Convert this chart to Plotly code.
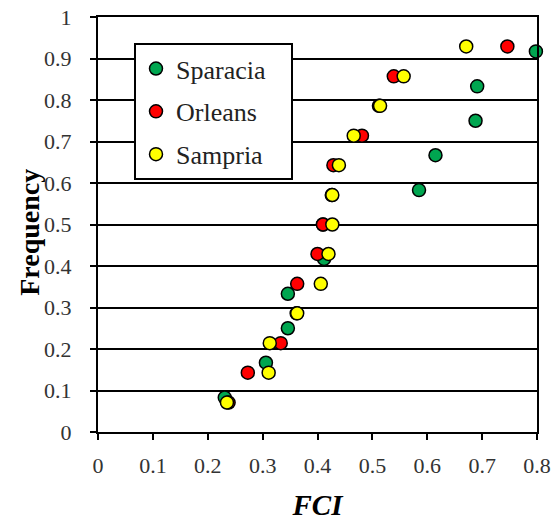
import plotly.graph_objects as go

# Data
sparacia_x = [0.231, 0.306, 0.346, 0.346, 0.412, 0.410, 0.585, 0.615, 0.688, 0.691, 0.798]
sparacia_y = [0.083, 0.167, 0.250, 0.333, 0.417, 0.500, 0.583, 0.667, 0.750, 0.833, 0.917]

orleans_x = [0.238, 0.273, 0.333, 0.362, 0.363, 0.400, 0.410, 0.426, 0.429, 0.481, 0.512, 0.539, 0.746]
orleans_y = [0.071, 0.143, 0.214, 0.286, 0.357, 0.429, 0.500, 0.571, 0.643, 0.714, 0.786, 0.857, 0.929]

sampria_x = [0.235, 0.311, 0.313, 0.363, 0.406, 0.420, 0.427, 0.427, 0.439, 0.466, 0.514, 0.557, 0.671]
sampria_y = [0.071, 0.143, 0.214, 0.286, 0.357, 0.429, 0.500, 0.571, 0.643, 0.714, 0.786, 0.857, 0.929]

x_ticks = [0, 0.1, 0.2, 0.3, 0.4, 0.5, 0.6, 0.7, 0.8]
y_ticks = [0, 0.1, 0.2, 0.3, 0.4, 0.5, 0.6, 0.7, 0.8, 0.9, 1]

FONT = "Liberation Serif"

series = [
    ("Sparacia", sparacia_x, sparacia_y, "#00A650"),
    ("Orleans", orleans_x, orleans_y, "#FF0000"),
    ("Sampria", sampria_x, sampria_y, "#FFFF00"),
]

fig = go.Figure()
for name, xs, ys, col in series:
    fig.add_trace(go.Scatter(
        x=xs, y=ys, mode="markers", name=name + "\u00a0\u00a0\u00a0", legendgroup=name,
        marker=dict(size=13, color=col, line=dict(color="black", width=1.5)),
        cliponaxis=False,
    ))

fig.update_layout(
    width=553, height=521,
    margin=dict(l=98, r=16, t=17, b=89),
    paper_bgcolor="white", plot_bgcolor="white",
    font=dict(family=FONT, color="#333333", size=22),
    showlegend=True,
    legend=dict(
        x=0.082, y=0.937, xanchor="left", yanchor="top",
        bgcolor="white", bordercolor="black", borderwidth=2,
        font=dict(family=FONT, size=26, color="#222222"),
        tracegroupgap=6,
        itemwidth=30,
    ),
    xaxis=dict(
        range=[0, 0.8], tickvals=x_ticks, ticktext=[str(v) for v in x_ticks],
        showgrid=False, zeroline=False, automargin=False,
        showline=True, linecolor="black", linewidth=2, mirror=True,
        ticks="outside", ticklen=6, tickwidth=2, tickcolor="black",
        tickfont=dict(size=22), ticklabelstandoff=7,
        title=dict(text="<b><i>FCI</i></b>", font=dict(size=29, color="black"), standoff=22),
    ),
    yaxis=dict(
        range=[0, 1], tickvals=y_ticks, ticktext=[str(v) for v in y_ticks],
        showgrid=True, gridcolor="black", gridwidth=2, zeroline=False, automargin=False,
        showline=True, linecolor="black", linewidth=2, mirror=True,
        ticks="outside", ticklen=6, tickwidth=2, tickcolor="black",
        tickfont=dict(size=22), ticklabelstandoff=14,
    ),
    annotations=[dict(
        text="<b>Frequency</b>", textangle=-90, showarrow=False,
        xref="paper", yref="paper", x=0, y=0.48, xanchor="center", yanchor="middle",
        xshift=-68, font=dict(family=FONT, size=28, color="black"),
    )],
)

fig.write_html("out.html")
